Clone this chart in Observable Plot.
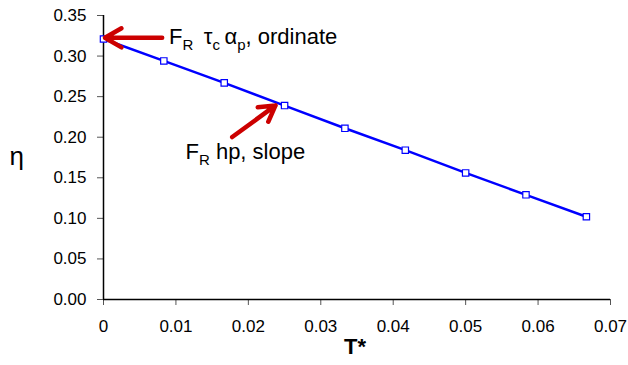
<!DOCTYPE html>
<html>
<head>
<meta charset="utf-8">
<script src="https://cdn.jsdelivr.net/npm/d3@7"></script>
<script src="https://cdn.jsdelivr.net/npm/@observablehq/plot@0.6"></script>
<style>
  html, body { margin: 0; padding: 0; background: #fff; }
  #chart svg { display: block; }
  #chart g[aria-label="x-axis tick"] path, #chart g[aria-label="y-axis tick"] path { stroke: #555; }
</style>
</head>
<body>
<div id="chart"></div>
<script>
// Data
const tStar = [0, 0.00833, 0.01667, 0.025, 0.03333, 0.04167, 0.05, 0.05833, 0.06667];
const eta = [0.321, 0.294, 0.267, 0.239, 0.211, 0.184, 0.156, 0.129, 0.102];
const xTicks = [0, 0.01, 0.02, 0.03, 0.04, 0.05, 0.06, 0.07];
const yTicks = [0, 0.05, 0.10, 0.15, 0.20, 0.25, 0.30, 0.35];
// Annotations (data units)
const annoLabels = ["F{R}\u2009 τ{c}\u2009α{p}, ordinate", "F{R} hp, slope"];
const annoX = [0.00905, 0.01132];
const annoY = [0.3235, 0.182];
const arrowX1 = [0.0081, 0.01777];
const arrowY1 = [0.3225, 0.2002];
const arrowX2 = [0.0002, 0.02375];
const arrowY2 = [0.3225, 0.2392];

const pts = tStar.map((t, i) => ({t, eta: eta[i]}));
const annos = annoLabels.map((s, i) => ({s, x: annoX[i], y: annoY[i]}));
const arrows = arrowX1.map((x1, i) => ({x1, y1: arrowY1[i], x2: arrowX2[i], y2: arrowY2[i]}));

const svg = Plot.plot({
  width: 628,
  height: 365,
  marginLeft: 103,
  marginRight: 18,
  marginTop: 15,
  marginBottom: 66,
  style: {fontFamily: "Liberation Sans, Arial, sans-serif", fontSize: "17px", color: "black", background: "white"},
  x: {domain: [0, 0.07], ticks: xTicks, tickFormat: d => d === 0 ? "0" : d.toFixed(2), tickSize: 6, tickPadding: 14, label: null},
  y: {domain: [0, 0.35], ticks: yTicks, tickFormat: d => d.toFixed(2), tickSize: 6, tickPadding: 11, label: null},
  marks: [
    Plot.ruleX([0], {stroke: "black", strokeWidth: 1.5}),
    Plot.ruleY([0], {stroke: "black", strokeWidth: 1.5}),
    Plot.line(pts, {x: "t", y: "eta", stroke: "#0000ff", strokeWidth: 2.5}),
    Plot.dot(pts, {x: "t", y: "eta", symbol: "square", r: 3.6, stroke: "#0000ff", strokeWidth: 1.2, fill: "white"}),
    Plot.arrow(arrows, {x1: "x1", y1: "y1", x2: "x2", y2: "y2", stroke: "#cc0000", strokeWidth: 4.5, headLength: 13, headAngle: 60}),
    Plot.text(annos, {x: "x", y: "y", text: "s", textAnchor: "start", fontSize: 22, fill: "black"}),
    Plot.text(["η"], {frameAnchor: "left", dx: -94, dy: -1, fontSize: 26, fill: "black"}),
    Plot.text(["T*"], {frameAnchor: "bottom", dy: 54, dx: -2, fontSize: 22, fontWeight: "bold", fill: "black"})
  ]
});

// Convert {x} markup into subscripts
const NS = "http://www.w3.org/2000/svg";
svg.querySelectorAll("text").forEach(t => {
  const s = t.textContent;
  if (!s.includes("{")) return;
  while (t.firstChild) t.removeChild(t.firstChild);
  const parts = s.split(/(\{[^}]*\})/);
  let sub = false;
  parts.forEach(p => {
    if (!p) return;
    const ts = document.createElementNS(NS, "tspan");
    if (p.startsWith("{")) {
      ts.textContent = p.slice(1, -1);
      ts.setAttribute("font-size", "15");
      ts.setAttribute("dy", "6");
      sub = true;
    } else {
      ts.textContent = p;
      if (sub) { ts.setAttribute("dy", "-6"); sub = false; }
    }
    t.appendChild(ts);
  });
});

document.getElementById("chart").appendChild(svg);
</script>
</body>
</html>
